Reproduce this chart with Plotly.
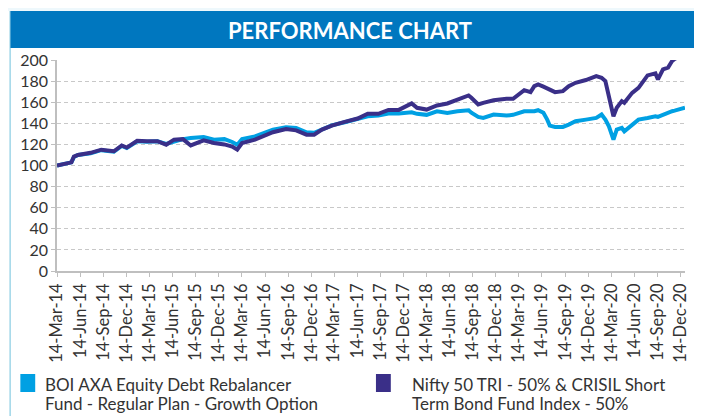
import plotly.graph_objects as go

# ---- data ----
dates = [
    "2014-03-14", "2014-04-15", "2014-05-10", "2014-05-20", "2014-06-05", "2014-07-25",
    "2014-09-05", "2014-10-25", "2014-11-25", "2014-12-15", "2015-01-25", "2015-03-05",
    "2015-04-15", "2015-05-20", "2015-06-20", "2015-07-25", "2015-08-25", "2015-10-15",
    "2015-11-25", "2016-01-05", "2016-02-05", "2016-02-25", "2016-03-15", "2016-05-05",
    "2016-07-15", "2016-09-05", "2016-10-15", "2016-11-25", "2016-12-25", "2017-01-25",
    "2017-03-05", "2017-04-25", "2017-06-15", "2017-07-25", "2017-09-05", "2017-10-15",
    "2017-11-25", "2018-01-15", "2018-02-05", "2018-03-15", "2018-04-25", "2018-06-05",
    "2018-07-15", "2018-08-28", "2018-09-08", "2018-10-05", "2018-10-25", "2018-12-05",
    "2019-01-25", "2019-02-20", "2019-04-05", "2019-04-30", "2019-05-15", "2019-05-30",
    "2019-06-20", "2019-07-05", "2019-07-15", "2019-08-05", "2019-09-05", "2019-09-28",
    "2019-10-25", "2019-12-05", "2020-01-15", "2020-02-05", "2020-02-20", "2020-03-05",
    "2020-03-23", "2020-04-05", "2020-04-25", "2020-05-05", "2020-06-05", "2020-06-30",
    "2020-08-05", "2020-09-05", "2020-09-15", "2020-10-05", "2020-10-25", "2020-11-10",
    "2020-11-20", "2020-12-31",
]
fund = [
    100, 102, 103, 108, 110, 111.5,
    114.5, 113, 118.5, 116.5, 123, 122.5,
    123, 120.5, 123, 125, 126, 127,
    124.5, 125, 122.3, 119.7, 125, 127.6,
    134, 136.2, 135.5, 131.5, 131, 134.5,
    138, 141, 144, 146.7, 147.3, 149.2,
    149.2, 150.5, 149, 148, 151.4, 149.9,
    151.4, 152.4, 150, 146, 145.1, 148.3,
    147.3, 148, 151.4, 151, 151.4, 152.4,
    150, 143.5, 137.8, 136.6, 136.6, 138.8,
    141.9, 143.5, 145.1, 148.3, 143.5, 137.1,
    124.5, 134, 135.6, 132.4, 138.8, 143.5,
    145.1, 146.7, 146, 148.3, 150.5, 151.5,
    152, 154.7,
]
benchmark = [
    100, 102, 103, 108.5, 110, 112,
    115, 113.5, 119, 117, 123.5, 123,
    123, 119.7, 124.5, 125, 119, 123.8,
    121.3, 120, 118, 115, 121.3, 124.5,
    131.5, 134.6, 133.3, 129.2, 129.2, 134,
    137.8, 141.3, 144.5, 149, 149, 152.7,
    152.7, 158.8, 154.7, 153, 156.9, 158.8,
    162.6, 166.4, 164.2, 157.8, 159.4, 161.9,
    163.2, 163.2, 171.4, 169.5, 175.2, 176.9,
    174.7, 173, 172.1, 169.5, 170.5, 175.2,
    178.4, 181, 184.8, 183.2, 180, 165.7,
    146.7, 154.7, 161, 159.4, 168.9, 173.6,
    185.4, 187.3, 181.6, 191.1, 192.8, 199,
    201, 206,
]
fund_lines = ["BOI AXA Equity Debt Rebalancer", "Fund - Regular Plan - Growth Option"]
bench_lines = ["Nifty 50 TRI - 50% & CRISIL Short", "Term Bond Fund Index - 50%"]
title_text = "PERFORMANCE CHART"
tick_dates = [f"{y}-{m:02d}-14" for y in range(2014, 2021) for m in (3, 6, 9, 12)]
tick_labels = [f"14-{mn}-{str(y)[2:]}" for y in range(2014, 2021) for mn in ("Mar", "Jun", "Sep", "Dec")]
y_ticks = list(range(0, 201, 20))

# ---- styling ----
FUND_COLOR = "#00a0e3"
BENCH_COLOR = "#3a2f88"
BAR_COLOR = "#0077bf"
TEXT_COLOR = "#333333"
FONT = "Lato"
OFF = 8                      # browser default body margin
W, H = 702 - OFF, 416 - OFF  # figure size
L, R, T, B = 48, 12, 52, 145
PW, PH = W - L - R, H - T - B


def px(x):   # page pixel x -> paper
    return (x - OFF - L) / PW


def py(y):   # page pixel y -> paper
    return (H - B - (y - OFF)) / PH


fig = go.Figure()
fig.add_trace(go.Scatter(x=dates, y=fund, mode="lines", name="fund",
                         line=dict(color=FUND_COLOR, width=4), showlegend=False))
fig.add_trace(go.Scatter(x=dates, y=benchmark, mode="lines", name="bench",
                         line=dict(color=BENCH_COLOR, width=4), showlegend=False))

shapes = [
    dict(type="rect", xref="paper", yref="paper", x0=px(0), x1=px(720), y0=py(0), y1=py(11),
         fillcolor="#eef8fc", line_width=0, layer="below"),
    dict(type="line", xref="paper", yref="paper", x0=px(8.7), x1=px(8.7), y0=py(11), y1=py(430),
         line=dict(color="#9fd6e8", width=1.5)),
    dict(type="rect", xref="paper", yref="paper", x0=px(9), x1=px(720), y0=py(48), y1=py(11),
         fillcolor=BAR_COLOR, line_width=0),
    dict(type="rect", xref="paper", yref="paper", x0=px(19), x1=px(34), y0=py(392), y1=py(374),
         fillcolor=FUND_COLOR, line_width=0),
    dict(type="rect", xref="paper", yref="paper", x0=px(378), x1=px(393), y0=py(392), y1=py(374),
         fillcolor=BENCH_COLOR, line_width=0),
]

annotations = [
    dict(text=title_text, xref="paper", yref="paper", x=px(352), y=py(30),
         showarrow=False, font=dict(family=FONT, size=22, color="white", weight="bold"),
         xanchor="center", yanchor="middle"),
]
for lines, x0 in ((fund_lines, 42), (bench_lines, 412)):
    for i, t in enumerate(lines):
        annotations.append(dict(text=t, xref="paper", yref="paper", x=px(x0), y=py(384 + 19 * i),
                                showarrow=False, font=dict(family=FONT, size=17, color=TEXT_COLOR),
                                xanchor="left", yanchor="middle"))

fig.update_layout(
    width=W, height=H,
    margin=dict(l=L, r=R, t=T, b=B, pad=0),
    paper_bgcolor="white", plot_bgcolor="white",
    shapes=shapes, annotations=annotations,
    font=dict(family=FONT, color=TEXT_COLOR),
)
fig.update_xaxes(
    type="date", range=["2014-03-14", "2020-12-31"],
    tickmode="array", tickvals=tick_dates, ticktext=tick_labels,
    tickangle=-90, tickfont=dict(size=16.5, color=TEXT_COLOR),
    showgrid=False, showline=True, linecolor="#bfbfbf", linewidth=1.5,
    ticks="outside", ticklen=4, tickcolor="#bfbfbf", zeroline=False,
)
fig.update_yaxes(
    range=[0, 200], tickmode="array", tickvals=y_ticks,
    tickfont=dict(size=16, color=TEXT_COLOR),
    showgrid=True, gridcolor="#c8c8c8", griddash="4px,3px", gridwidth=1,
    showline=True, linecolor="#bfbfbf", linewidth=1.5,
    ticks="outside", ticklen=4, tickcolor="#bfbfbf", zeroline=False,
)

fig.write_html("out.html")
